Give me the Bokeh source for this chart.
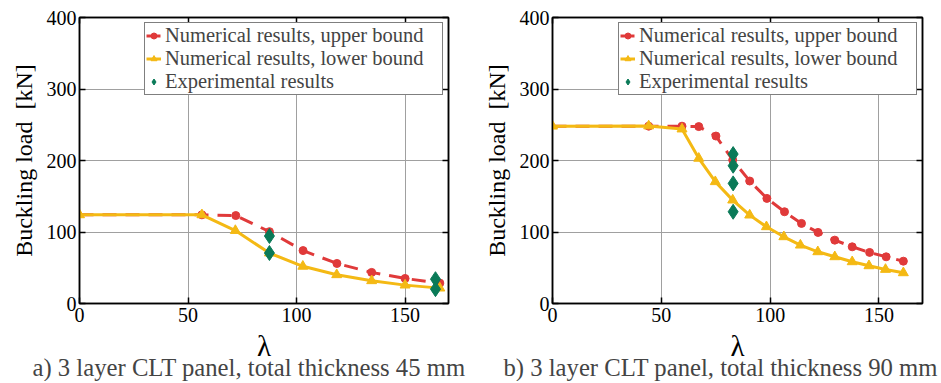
from bokeh.plotting import figure
from bokeh.layouts import row
from bokeh.models import Range1d, LinearAxis, Title, Legend, LegendItem, FixedTicker, CustomJSTickFormatter
from bokeh.embed import file_html
from bokeh.resources import INLINE

# ---- data: panel a) 45 mm ----
a_upper_x = [0, 56.4, 72, 87.5, 103, 118.6, 134.6, 150, 166]
a_upper_y = [124, 124, 123, 100.5, 74, 56, 43.5, 35, 28.5]
a_lower_x = [0, 56.4, 71.8, 87.5, 102.9, 118.5, 134.6, 150, 166]
a_lower_y = [124, 124, 102, 70.6, 52, 40.2, 31.8, 25.7, 21.5]
a_exp_x = [87.5, 87.5, 164, 164]
a_exp_y = [94.4, 70.6, 34, 20.1]

# ---- data: panel b) 90 mm ----
b_upper_x = [0, 44.2, 59.5, 67.2, 75.1, 82.8, 90.6, 98.5, 106.6, 114.4, 122, 129.7, 137.7, 145.7, 153.3, 161.2]
b_upper_y = [248, 248, 248, 247.4, 234.2, 200.7, 171.3, 147, 128.3, 112, 99.4, 88.6, 79.3, 71.4, 65.3, 59.2]
b_lower_x = [0, 44.2, 59.5, 67.2, 74.8, 82.8, 90.6, 98.3, 106.3, 113.9, 121.9, 129.7, 137.7, 145.4, 153, 161.2]
b_lower_y = [248, 248.3, 244, 203, 170.3, 144.6, 123.6, 107.3, 93.3, 81.6, 72.3, 65.3, 58.3, 52.7, 47.6, 42.9]
b_exp_x = [83, 83, 83, 83]
b_exp_y = [209, 192.7, 168, 128.3]

x_ticks = [0, 50, 100, 150]
y_ticks = [0, 100, 200, 300, 400]
labels = ["Numerical results, upper bound", "Numerical results, lower bound", "Experimental results"]
captions = ["a) 3 layer CLT panel, total thickness 45 mm", "b) 3 layer CLT panel, total thickness 90 mm"]

RED = "#e03a3a"
YEL = "#f4b914"
GRN = "#0a7a58"
FONT = "'Liberation Serif', 'Times New Roman', serif"


def make(ux, uy, lx, ly, ex, ey, caption, width, left, right, cap_offset):
    p = figure(width=width, height=381, x_range=Range1d(0, 170), y_range=Range1d(0, 400),
               output_backend="svg", toolbar_location=None,
               min_border_left=left, min_border_right=right, min_border_top=17, min_border_bottom=78)
    p.outline_line_color = "black"
    p.outline_line_width = 1.5
    p.background_fill_color = "white"
    p.border_fill_color = "white"

    for ax in (p.xaxis[0], p.yaxis[0]):
        ax.major_label_text_font = FONT
        ax.major_label_text_font_size = "20px"
        ax.major_label_text_color = "black"
        ax.axis_label_text_font = FONT
        ax.axis_label_text_font_style = "normal"
        ax.axis_label_text_color = "black"
        ax.major_tick_in = 6
        ax.major_tick_out = 0
        ax.minor_tick_line_color = None
        ax.axis_line_color = "black"
        ax.axis_line_width = 1.5
        ax.major_tick_line_color = "black"
        ax.major_tick_line_width = 1.5
    p.xaxis.ticker = FixedTicker(ticks=x_ticks)
    p.yaxis.ticker = FixedTicker(ticks=y_ticks)
    p.xaxis.axis_label = "λ"
    p.xaxis.axis_label_text_font_size = "29px"
    p.xaxis.axis_label_standoff = 5
    p.xaxis.major_label_standoff = 4
    p.yaxis.axis_label = "Buckling load\u00a0\u00a0[kN]"
    p.yaxis.axis_label_text_font_size = "24px"
    p.yaxis.axis_label_standoff = 7
    p.yaxis.major_label_standoff = 3

    # ticks on top and right (no labels)
    blank = CustomJSTickFormatter(code="return ''")
    for loc in ("above", "right"):
        ax = LinearAxis(ticker=FixedTicker(ticks=x_ticks if loc == "above" else y_ticks),
                        formatter=blank, major_tick_in=6, major_tick_out=0,
                        minor_tick_line_color=None, axis_line_color="black", axis_line_width=1.5,
                        major_tick_line_color="black", major_tick_line_width=1.5,
                        major_label_standoff=0)
        p.add_layout(ax, loc)

    p.xgrid.ticker = FixedTicker(ticks=x_ticks)
    p.ygrid.ticker = FixedTicker(ticks=y_ticks)
    p.grid.grid_line_color = "#a0a0a0"
    p.grid.grid_line_width = 1

    r_ul = p.line(ux, uy, line_color=RED, line_width=3, line_dash="14 9")
    r_uc = p.scatter(ux[1:], uy[1:], marker="circle", size=8, fill_color=RED, line_color=RED)
    r_ll = p.line(lx, ly, line_color=YEL, line_width=3)
    r_lt = p.scatter(lx, ly, marker="triangle", size=10, fill_color=YEL, line_color=YEL)
    r_e = p.scatter(ex, ey, marker="diamond", size=15, fill_color=GRN, line_color=GRN)

    legend = Legend(items=[LegendItem(label=labels[0], renderers=[r_ul, r_uc]),
                           LegendItem(label=labels[1], renderers=[r_ll, r_lt]),
                           LegendItem(label=labels[2], renderers=[r_e])],
                    location="top_right", margin=5, padding=1, spacing=0,
                    glyph_width=15, glyph_height=23, label_standoff=4,
                    label_text_font=FONT, label_text_font_size="20.5px", label_height=23,
                    label_width=276,
                    border_line_color="black", border_line_width=1.5,
                    background_fill_alpha=1.0)
    p.add_layout(legend)

    p.add_layout(Title(text=caption, align="left", text_font=FONT, text_font_size="24.7px",
                       text_font_style="normal", offset=cap_offset, standoff=-33), "below")
    return p


p1 = make(a_upper_x, a_upper_y, a_lower_x, a_lower_y, a_exp_x, a_exp_y, captions[0], 470, 79, 22, -47)
p2 = make(b_upper_x, b_upper_y, b_lower_x, b_lower_y, b_exp_x, b_exp_y, captions[1], 471, 82, 19, -49)

layout = row(p1, p2, spacing=0)
open("out.html", "w").write(file_html(layout, INLINE))
